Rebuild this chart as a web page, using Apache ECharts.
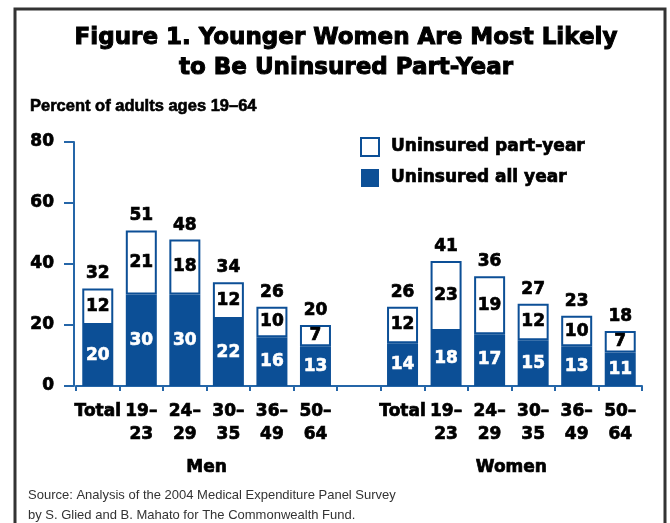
<!DOCTYPE html>
<html>
<head>
<meta charset="utf-8">
<script src="https://cdn.jsdelivr.net/npm/echarts@6/dist/echarts.min.js"></script>
<style>
  html, body { margin: 0; padding: 0; background: #fff; }
  #chart { width: 670px; height: 523px; }
</style>
</head>
<body>
<div id="chart"></div>
<script>
// Age groups for men, a spacer, then the same groups for women
const categories = ['Total', '19–\n23', '24–\n29', '30–\n35', '36–\n49', '50–\n64', '',
                    'Total', '19–\n23', '24–\n29', '30–\n35', '36–\n49', '50–\n64'];
const allYear  = [20, 30, 30, 22, 16, 13, '-', 14, 18, 17, 15, 13, 11];
const partYear = [12, 21, 18, 12, 10, 7, '-', 12, 23, 19, 12, 10, 7];
// Group captions sit on a second axis whose points fall on category boundaries
const groupLabels = ['', '', '', 'Men', '', '', '', '', '', '', 'Women', '', '', ''];
const yTicks = [0, 20, 40, 60, 80];

const BLUE = '#0c4f96';
const AXIS_BLUE = '#2566a8';
const HEAVY = '"DejaVu Sans", Verdana, sans-serif';
const PLAIN = '"Liberation Sans", Arial, Helvetica, sans-serif';

const chart = echarts.init(document.getElementById('chart'), null, { renderer: 'canvas' });

const totals = allYear.map((v, i) => v === '-' ? '-' : v + partYear[i]);

// heavy bold text, thickened with a thin outline of the same colour
const boldText = (size, color = '#000', stroke = 0.7) => ({
  fontFamily: HEAVY, fontSize: size, fontWeight: 'bold', color,
  textBorderColor: color, textBorderWidth: stroke
});

chart.setOption({
  backgroundColor: '#fff',
  animation: false,
  textStyle: { fontFamily: HEAVY },
  title: [
    {
      text: 'Figure 1. Younger Women Are Most Likely\nto Be Uninsured Part-Year',
      left: 341, top: 18, textAlign: 'center',
      textStyle: Object.assign(boldText(23, '#000', 1), { lineHeight: 30 })
    },
    {
      text: 'Percent of adults ages 19–64',
      left: 25, top: 93,
      textStyle: {
        fontFamily: PLAIN, fontSize: 16.5, fontWeight: 'bold', color: '#000',
        textBorderColor: '#000', textBorderWidth: 0.6
      }
    },
    {
      text: 'Source: Analysis of the 2004 Medical Expenditure Panel Survey\nby S. Glied and B. Mahato for The Commonwealth Fund.',
      left: 23, top: 480,
      textStyle: { fontFamily: PLAIN, fontSize: 13, fontWeight: 'normal', color: '#333', lineHeight: 20 }
    }
  ],
  legend: {
    orient: 'vertical',
    left: 355, top: 132,
    itemWidth: 18, itemHeight: 18, itemGap: 12,
    icon: 'rect',
    data: ['Uninsured part-year', 'Uninsured all year'],
    textStyle: Object.assign(boldText(17), { padding: [0, 0, 0, 7] })
  },
  grid: { left: 76, top: 142, width: 566, height: 244, containLabel: false },
  xAxis: [
    {
      type: 'category',
      data: categories,
      axisLine: { lineStyle: { color: AXIS_BLUE, width: 2 } },
      axisTick: { show: true, length: 5, lineStyle: { color: AXIS_BLUE, width: 2 } },
      axisLabel: Object.assign({ interval: 0, margin: 14, lineHeight: 23 }, boldText(17))
    },
    {
      type: 'category',
      data: groupLabels,
      position: 'bottom',
      boundaryGap: false,
      axisLine: { show: false },
      axisTick: { show: false },
      axisLabel: Object.assign({ interval: 0, margin: 73 }, boldText(17))
    }
  ],
  yAxis: {
    type: 'value',
    min: yTicks[0], max: yTicks[yTicks.length - 1], interval: 20,
    offset: 2,
    splitLine: { show: false },
    axisLine: { show: true, lineStyle: { color: AXIS_BLUE, width: 2 } },
    axisTick: { show: true, inside: false, length: 10, lineStyle: { color: AXIS_BLUE, width: 2 } },
    axisLabel: Object.assign({ margin: 20 }, boldText(17))
  },
  series: [
    {
      name: 'Uninsured all year',
      type: 'bar', stack: 'u', barWidth: 31,
      data: allYear,
      itemStyle: { color: BLUE },
      label: Object.assign({ show: true, position: 'inside' }, boldText(17, '#fff', 0.6))
    },
    {
      name: 'Uninsured part-year',
      type: 'bar', stack: 'u', barWidth: 31,
      data: partYear,
      itemStyle: { color: '#fff', borderColor: BLUE, borderWidth: 2 },
      label: Object.assign({ show: true, position: 'inside' }, boldText(17))
    },
    {
      // zero-height cap that carries the total above each stack
      name: 'total',
      type: 'bar', stack: 'u', barWidth: 31,
      data: totals.map(t => t === '-' ? '-' : 0),
      itemStyle: { color: 'rgba(0,0,0,0)', borderWidth: 0 },
      label: Object.assign({
        show: true, position: 'top', distance: 6,
        formatter: p => totals[p.dataIndex]
      }, boldText(17)),
      tooltip: { show: false }
    }
  ],
  graphic: [
    {
      type: 'rect', silent: true, z: 100,
      shape: { x: 15, y: 9, width: 650, height: 530 },
      style: { fill: 'none', stroke: '#333', lineWidth: 3 }
    }
  ]
});
</script>
</body>
</html>
